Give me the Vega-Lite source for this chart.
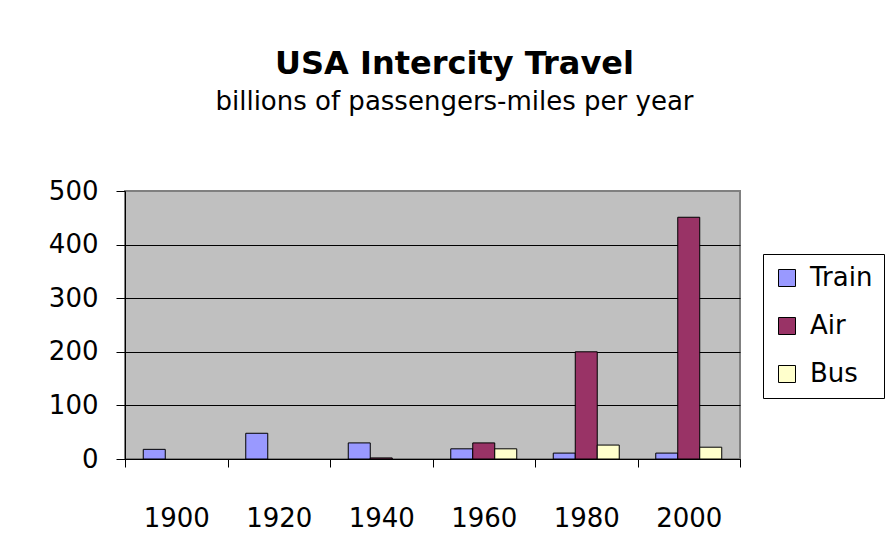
{
  "$schema": "https://vega.github.io/schema/vega-lite/v6.json",
  "width": 615,
  "height": 268,
  "autosize": {"type": "none"},
  "padding": {"left": 125, "top": 191, "right": 149, "bottom": 94},
  "background": "white",
  "title": {
    "text": "USA Intercity Travel",
    "subtitle": "billions of passengers-miles per year",
    "anchor": "middle",
    "frame": "group",
    "dx": 22,
    "offset": 62,
    "font": "DejaVu Sans",
    "fontSize": 32,
    "fontWeight": "bold",
    "color": "black",
    "subtitleFont": "DejaVu Sans",
    "subtitleFontSize": 26,
    "subtitleColor": "black",
    "subtitlePadding": 8
  },
  "data": {
    "values": [
      {"year": "1900", "mode": "Train", "miles": 18},
      {"year": "1920", "mode": "Train", "miles": 48},
      {"year": "1940", "mode": "Train", "miles": 30},
      {"year": "1940", "mode": "Air", "miles": 2},
      {"year": "1960", "mode": "Train", "miles": 19},
      {"year": "1960", "mode": "Air", "miles": 30},
      {"year": "1960", "mode": "Bus", "miles": 19},
      {"year": "1980", "mode": "Train", "miles": 11},
      {"year": "1980", "mode": "Air", "miles": 200},
      {"year": "1980", "mode": "Bus", "miles": 26},
      {"year": "2000", "mode": "Train", "miles": 11},
      {"year": "2000", "mode": "Air", "miles": 451},
      {"year": "2000", "mode": "Bus", "miles": 22}
    ]
  },
  "mark": {"type": "bar", "stroke": "black", "strokeWidth": 1},
  "encoding": {
    "x": {
      "field": "year",
      "type": "ordinal",
      "scale": {"paddingInner": 0, "paddingOuter": 0},
      "axis": {
        "title": null,
        "labelAngle": 0,
        "tickBand": "extent",
        "domainColor": "black",
        "domainWidth": 1,
        "tickColor": "black",
        "tickSize": 8,
        "labelFont": "DejaVu Sans",
        "labelFontSize": 26,
        "labelColor": "black",
        "labelPadding": 38,
        "grid": false
      }
    },
    "xOffset": {
      "field": "mode",
      "type": "nominal",
      "scale": {"domain": ["Train", "Air", "Bus"], "paddingInner": 0, "paddingOuter": 0.83}
    },
    "y": {
      "field": "miles",
      "type": "quantitative",
      "scale": {"domain": [0, 500], "nice": false},
      "axis": {
        "title": null,
        "values": [0, 100, 200, 300, 400, 500],
        "domainColor": "black",
        "domainWidth": 1,
        "tickColor": "black",
        "tickSize": 9,
        "labelFont": "DejaVu Sans",
        "labelFontSize": 26,
        "labelColor": "black",
        "labelPadding": 18,
        "gridColor": {"condition": {"test": "datum.value === 500", "value": "#808080"}, "value": "black"},
        "gridWidth": 1
      }
    },
    "color": {
      "field": "mode",
      "type": "nominal",
      "scale": {"domain": ["Train", "Air", "Bus"], "range": ["#9999FF", "#993366", "#FFFFCC"]},
      "legend": {
        "title": null,
        "orient": "none",
        "legendX": 638,
        "legendY": 63,
        "direction": "vertical",
        "padding": 11,
        "strokeColor": "black",
        "fillColor": "white",
        "symbolType": "square",
        "symbolSize": 289,
        "symbolStrokeColor": "black",
        "symbolStrokeWidth": 1,
        "symbolOpacity": 1,
        "labelFont": "DejaVu Sans",
        "labelFontSize": 26,
        "labelColor": "black",
        "labelOffset": 10,
        "rowPadding": 22,
        "labelLimit": 200
      }
    }
  },
  "config": {
    "view": {"fill": "#C0C0C0", "stroke": "#808080", "strokeWidth": 2}
  }
}
